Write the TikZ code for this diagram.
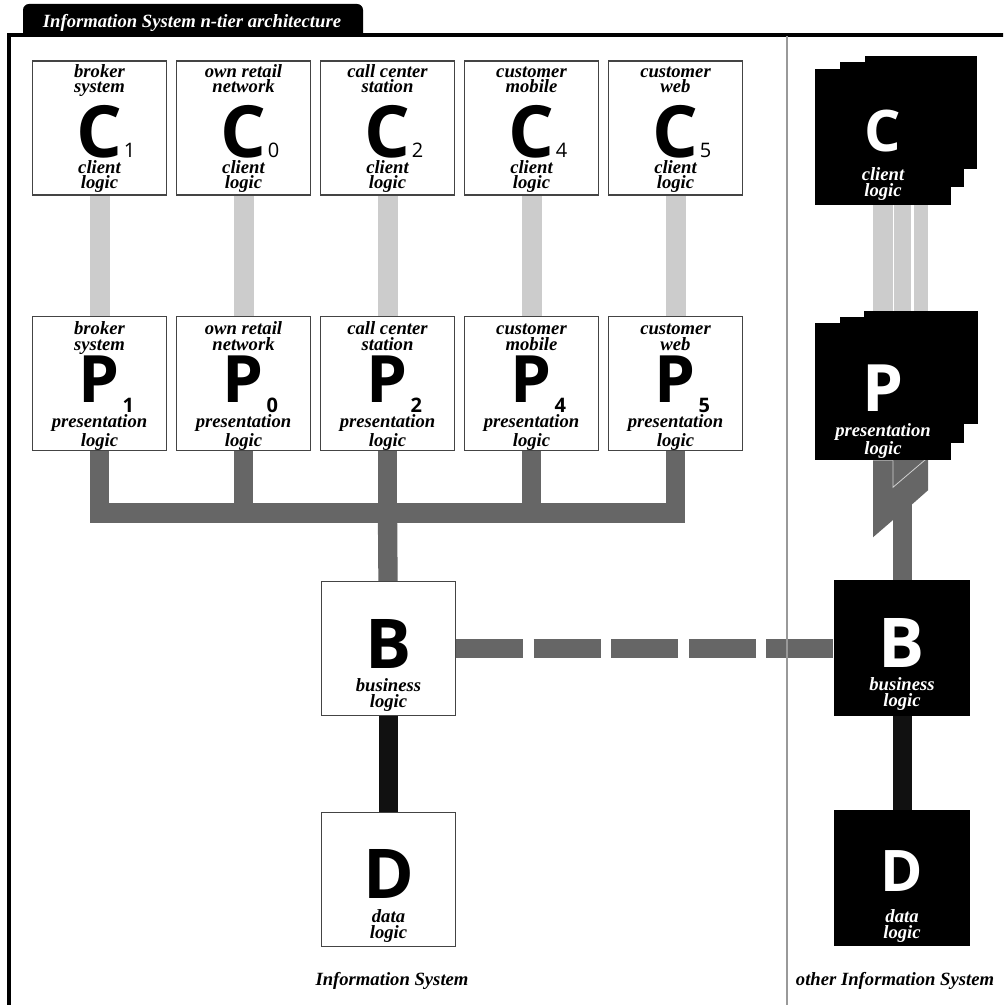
\documentclass[tikz,border=0pt]{standalone}
\usepackage{fontspec}
\setmainfont{Liberation Serif}
\newfontfamily\letterfont{Open Sans}
\usepackage{tikz}
\usetikzlibrary{calc,backgrounds}
\definecolor{linkgray}{HTML}{CCCCCC}
\definecolor{busgray}{HTML}{666666}
\definecolor{datablack}{HTML}{111111}
\definecolor{rulegray}{HTML}{999999}
\definecolor{boxline}{HTML}{444444}
\newcommand\labelfont{\fontsize{14}{11.6}\selectfont\bfseries\itshape}
\newcommand\bigletter[1]{\letterfont\bfseries\fontsize{#1}{#1}\selectfont}
\newcommand\digitfont{\letterfont\fontsize{15}{15}\selectfont}
\newcommand\pdigitfont{\letterfont\bfseries\fontsize{15}{15}\selectfont}
\newcommand\tierlabel[1]{\parbox[t]{78pt}{\centering #1}}
\tikzstyle{tierbox}=[rectangle,draw=boxline,line width=1pt,fill=white,
                     minimum width=100.5pt,minimum height=100.5pt,inner sep=0pt]
\tikzstyle{otherbox}=[rectangle,fill=black,inner sep=0pt]
\tikzstyle{tiertext}=[inner sep=0pt,anchor=base,font=\labelfont]
\tikzstyle{clientlink}=[draw=linkgray,line width=15pt]
\tikzstyle{preslink}=[draw=busgray,line width=14.5pt]
\tikzstyle{datalink}=[draw=datablack,line width=14.25pt]

\begin{document}
\begin{tikzpicture}[x=0.75pt,y=-0.75pt]
    \useasboundingbox (0,0) rectangle (1003,1005);
    \clip (0,0) rectangle (1003,1005);
    % frame, tab and separator
    \draw[line width=2.6pt] (9,1020) -- (9,35) -- (1020,35);
    \fill[black] (23,35) -- (23,10) arc[start angle=180,end angle=270,radius=6]
        -- (357,4) arc[start angle=270,end angle=360,radius=6] -- (363,35) -- cycle;
    \node[inner sep=0pt,anchor=base,text=white,
          font=\fontsize{14}{14}\selectfont\bfseries\itshape] (title) at (192,28)
        {Information System n-tier architecture};
    \draw[rulegray,line width=1.1pt] (787,36) -- (787,1010);

    % client and presentation tiers
    \foreach \k/\d/\what in {0/1/{broker\\system},1/0/{own retail\\network},
        2/2/{call center\\station},3/4/{customer\\mobile},4/5/{customer\\web}} {
        \node [tierbox] (c\d) at (99.5+144*\k,128) {};
        \node [tiertext] (c\d-top) at ($(c\d.north)+(0,17)$) {\tierlabel{\what}};
        \node [tiertext,font=\bigletter{54}] (c\d-l) at ($(c\d.north)+(0,97)$) {C};
        \node [tiertext,anchor=base west,font=\digitfont] (c\d-n)
            at ($(c\d-l.base east)+(1,0)$) {\d};
        \node [tiertext] (c\d-bot) at ($(c\d.north)+(0,113)$) {\tierlabel{client\\logic}};

        \node [tierbox] (p\d) at (99.5+144*\k,383.5) {};
        \node [tiertext] (p\d-top) at ($(p\d.north)+(0,19)$) {\tierlabel{\what}};
        \node [tiertext,font=\bigletter{49}] (p\d-l) at ($(p\d.north)+(0,87)$) {P};
        \node [tiertext,anchor=base west,font=\pdigitfont] (p\d-n)
            at ($(p\d-l.base east)+(2,10)$) {\d};
        \node [tiertext] (p\d-bot) at ($(p\d.north)+(0,112)$) {\tierlabel{presentation\\logic}};
    }
    \coordinate (bus) at (0,513);

    % business and data tiers
    \node [tierbox] (b) at (388.5,648.5) {};
    \node [tiertext,font=\bigletter{51.5}] (b-l) at ($(b.north)+(0,88)$) {B};
    \node [tiertext] (b-bot) at ($(b.north)+(0,111)$) {\tierlabel{business\\logic}};
    \node [tierbox] (d) at (388.5,879.5) {};
    \node [tiertext,font=\bigletter{51.5}] (d-l) at ($(d.north)+(0,87)$) {D};
    \node [tiertext] (d-bot) at ($(d.north)+(0,111)$) {\tierlabel{data\\logic}};
    \node [tiertext] (islabel) at (392,985) {Information System};

    % other information system
    \node [otherbox,minimum width=84pt,minimum height=84.75pt] (oc3) at (921,112.5) {};
    \node [otherbox,minimum width=93pt,minimum height=93.75pt] (oc2) at (902,124.5) {};
    \node [otherbox,minimum size=102pt] (oc) at (883,137) {};
    \node [tiertext,text=white,font=\bigletter{43}] (oc-l) at ($(oc.north)+(0,83)$) {C};
    \node [tiertext,text=white] (oc-bot) at ($(oc.north)+(0,112)$) {\tierlabel{client\\logic}};

    \node [otherbox,minimum width=85.5pt,minimum height=84.75pt] (op3) at (921,367.5) {};
    \node [otherbox,minimum width=93pt,minimum height=94.5pt] (op2) at (902,380) {};
    \node [otherbox,minimum width=102pt,minimum height=102.75pt] (op) at (883,391.5) {};
    \node [tiertext,text=white,font=\bigletter{49}] (op-l) at ($(op.north)+(0,89)$) {P};
    \node [tiertext,text=white] (op-bot) at ($(op.north)+(0,114)$) {\tierlabel{presentation\\logic}};

    \node [otherbox,minimum size=102pt] (ob) at (902,648) {};
    \node [tiertext,text=white,font=\bigletter{51.5}] (ob-l) at ($(ob.north)+(0,88)$) {B};
    \node [tiertext,text=white] (ob-bot) at ($(ob.north)+(0,111)$) {\tierlabel{business\\logic}};
    \node [otherbox,minimum size=102pt] (od) at (902,878) {};
    \node [tiertext,text=white,font=\bigletter{43}] (od-l) at ($(od.north)+(0,82)$) {D};
    \node [tiertext,text=white] (od-bot) at ($(od.north)+(0,113)$) {\tierlabel{data\\logic}};
    \node [tiertext] (oislabel) at (895,985) {other Information System};

    % links
    \begin{scope}[on background layer]
        \foreach \d in {1,0,2,4,5} {
            \draw [clientlink] (c\d) -- (p\d);
            \draw [preslink] (p\d) -- (p\d |- bus);
        }
        \draw [preslink,line cap=rect] (p1 |- bus) -- (p5 |- bus);
        \draw [preslink] (p2 |- bus) -- (b);
        \draw [datalink] (b) -- (d);
        \draw [preslink,dash pattern=on 50.25pt off 7.9pt] (b) -- (b -| ob);

        \draw [clientlink] (oc) -- (op);
        \draw [clientlink,line width=12.75pt] (oc2) -- (op2);
        \draw [clientlink,line width=10.5pt] (oc3) -- (op3);
        \draw [preslink,line width=14.25pt] (op2) -- (ob);
        \fill [busgray] (op.south) ++(-10,0) -- ++(22,0) -- ++(0,58) -- ++(-22,19) -- cycle;
        \fill [busgray] (op3.south) ++(-10,0) -- ++(17,0) -- ++(0,66) -- ++(-17,15) -- cycle;
        \draw [white!70!busgray,line width=0.6pt] ($(op.south)+(10,0)$) -- ++(0,27) -- ++(34,-29);
        \draw [datalink] (ob) -- (od);
    \end{scope}
\end{tikzpicture}
\end{document}
